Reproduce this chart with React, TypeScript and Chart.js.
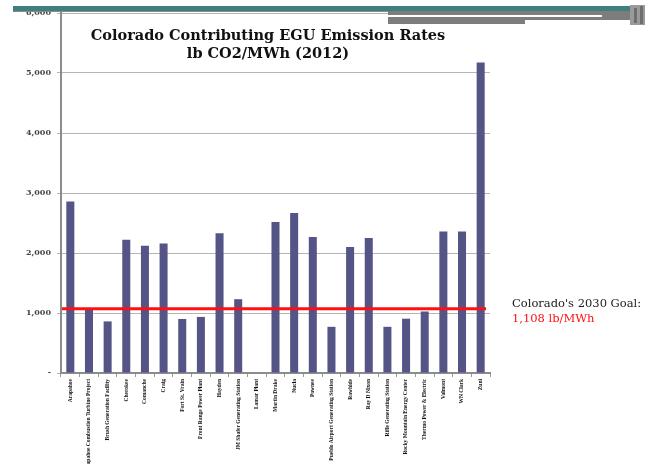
import React, { useEffect, useRef } from "react";
import { Chart, registerables } from "chart.js";

Chart.register(...registerables);

const plants: string[] = [
  "Arapahoe",
  "Arapahoe Combustion Turbine Project",
  "Brush Generation Facility",
  "Cherokee",
  "Comanche",
  "Craig",
  "Fort St. Vrain",
  "Front Range Power Plant",
  "Hayden",
  "JM Shafer Generating Station",
  "Lamar Plant",
  "Martin Drake",
  "Nucla",
  "Pawnee",
  "Pueblo Airport Generating Station",
  "Rawhide",
  "Ray D Nixon",
  "Rifle Generating Station",
  "Rocky Mountain Energy Center",
  "Thermo Power & Electric",
  "Valmont",
  "WN Clark",
  "Zuni",
];

const emissionRates: number[] = [
  2860, 1060, 860, 2220, 2120, 2160, 900, 935, 2330, 1230, 0, 2515, 2665,
  2265, 770, 2100, 2250, 770, 905, 1025, 2360, 2360, 5175,
];

const yTicks: number[] = [0, 1000, 2000, 3000, 4000, 5000, 6000];
const goalLineValue = 1070;
const titleLines: string[] = [
  "Colorado Contributing EGU Emission Rates",
  "lb CO2/MWh (2012)",
];
const goalLabel = "Colorado's 2030 Goal:";
const goalValueLabel = "1,108 lb/MWh";

const SERIF = "'Liberation Serif', 'DejaVu Serif', serif";
const WIDE_SERIF = "'DejaVu Serif', 'Liberation Serif', serif";

const decorPlugin = {
  id: "decor",
  beforeDraw(chart: any) {
    const ctx = chart.ctx;
    ctx.save();
    ctx.fillStyle = "#ffffff";
    ctx.fillRect(0, 0, chart.width, chart.height);
    ctx.restore();
  },
  afterDatasetsDraw(chart: any) {
    const ctx = chart.ctx;
    const { left, right } = chart.chartArea;
    const y = chart.scales.y.getPixelForValue(goalLineValue);
    ctx.save();
    ctx.strokeStyle = "#ff1010";
    ctx.lineWidth = 3;
    ctx.beginPath();
    ctx.moveTo(left + 1, y);
    ctx.lineTo(right - 4, y);
    ctx.stroke();
    ctx.restore();
  },
  afterDraw(chart: any) {
    const ctx = chart.ctx;
    const { right } = chart.chartArea;
    ctx.save();
    // title
    ctx.fillStyle = "#111111";
    ctx.textAlign = "center";
    ctx.textBaseline = "alphabetic";
    ctx.font = `bold 14.5px ${WIDE_SERIF}`;
    ctx.fillText(titleLines[0], 268, 40);
    ctx.fillText(titleLines[1], 268, 58);
    // goal annotation
    ctx.textAlign = "left";
    ctx.font = `11.5px ${WIDE_SERIF}`;
    ctx.fillStyle = "#222222";
    ctx.fillText(goalLabel, right + 22, 307);
    ctx.fillStyle = "#ff1010";
    ctx.fillText(goalValueLabel, right + 22, 322);
    // top decorative bands
    ctx.fillStyle = "#8a8a8a";
    ctx.fillRect(13, 10, 375, 2);
    ctx.fillStyle = "#7d7d7d";
    ctx.fillRect(388, 10, 245, 10);
    ctx.fillRect(388, 20, 137, 4);
    ctx.fillStyle = "#ffffff";
    ctx.fillRect(388, 15, 214, 2);
    ctx.fillStyle = "#3f7f80";
    ctx.fillRect(13, 6, 617, 5);
    ctx.fillStyle = "#9a9a9a";
    ctx.fillRect(630, 5, 15, 20);
    ctx.fillStyle = "#6e6e6e";
    ctx.fillRect(634, 8, 3, 15);
    ctx.fillRect(640, 6, 3, 18);
    ctx.restore();
  },
};

export default function App() {
  const ref = useRef<HTMLCanvasElement | null>(null);
  useEffect(() => {
    if (!ref.current) return;
    const chart = new Chart(ref.current, {
      type: "bar",
      data: {
        labels: plants,
        datasets: [
          {
            data: emissionRates,
            backgroundColor: "#545487",
            borderWidth: 0,
            barPercentage: 0.43,
            categoryPercentage: 1,
          },
        ],
      },
      options: {
        animation: false,
        responsive: false,
        devicePixelRatio: 1,
        layout: { padding: { left: 0, right: 159, top: 13, bottom: 0 } },
        plugins: {
          legend: { display: false },
          tooltip: { enabled: false },
          title: { display: false },
        },
        scales: {
          x: {
            grid: {
              offset: true,
              drawOnChartArea: false,
              drawTicks: true,
              tickLength: 4,
              color: "#999999",
            },
            border: { color: "#8c8c8c", width: 2 },
            ticks: {
              autoSkip: false,
              maxRotation: 90,
              minRotation: 90,
              padding: 2,
              color: "#111111",
              font: { family: SERIF, size: 5.5, weight: "bold" },
            },
            afterFit(scale: any) {
              scale.height = 91;
            },
          },
          y: {
            min: 0,
            max: 6000,
            afterBuildTicks(scale: any) {
              scale.ticks = yTicks.map((v) => ({ value: v }));
            },
            grid: {
              color: "#b5b5b5",
              tickLength: 4,
              lineWidth: 1,
            },
            border: { color: "#8c8c8c", width: 2 },
            ticks: {
              padding: 6,
              color: "#444444",
              font: { family: WIDE_SERIF, size: 8, weight: "bold" },
              callback: (v: any) =>
                Number(v) === 0 ? "-" : Number(v).toLocaleString("en-US"),
            },
            afterFit(scale: any) {
              scale.width = 61;
            },
          },
        },
      },
      plugins: [decorPlugin],
    });
    return () => chart.destroy();
  }, []);
  return (
    <div
      style={{
        position: "fixed",
        left: 0,
        top: 0,
        width: 649,
        height: 464,
        background: "#fff",
      }}
    >
      <canvas ref={ref} width={649} height={464} />
    </div>
  );
}
